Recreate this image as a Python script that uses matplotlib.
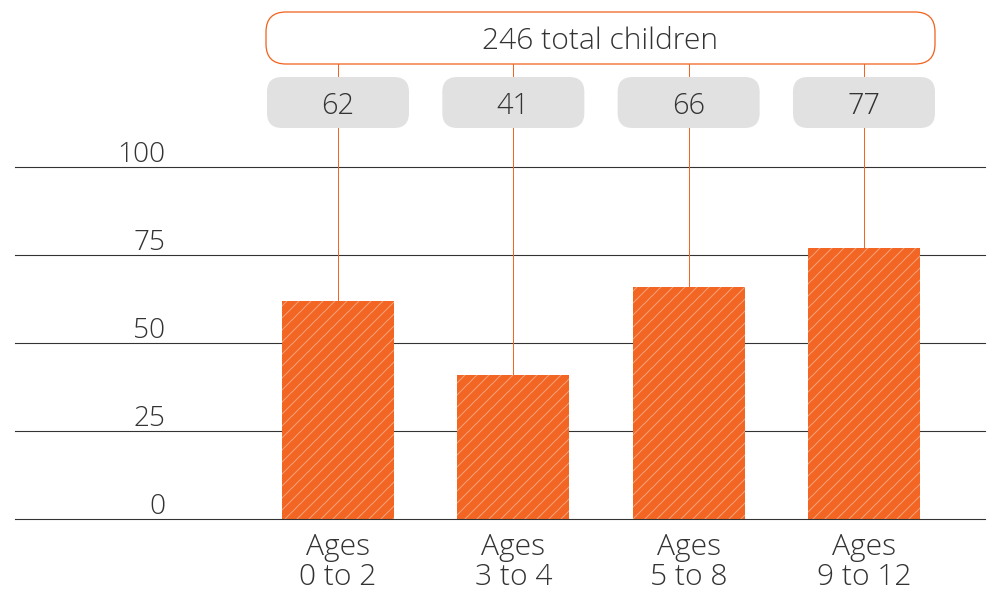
import matplotlib
matplotlib.use("Agg")
import matplotlib.pyplot as plt
from matplotlib.patches import FancyBboxPatch
import matplotlib.transforms as mtransforms

categories = ["Ages\n0 to 2", "Ages\n3 to 4", "Ages\n5 to 8", "Ages\n9 to 12"]
counts = [62, 41, 66, 77]
total_label = "246 total children"
yticks = [0, 25, 50, 75, 100]

ORANGE = "#f26522"
HATCH = "#f7a27a"
GRAY_BOX = "#e1e1e1"
TEXT = "#333333"
FONT = ["Open Sans", "DejaVu Sans"]

plt.rcParams["font.family"] = FONT
plt.rcParams["hatch.linewidth"] = 1.0

DPI = 72
W, H = 992, 593
fig = plt.figure(figsize=(W / DPI, H / DPI), dpi=DPI)

# layout in pixels
x_left, x_right = 15, 985
y_zero, y_hundred = 519, 167
c0, step = 338, 175.33
px_per_unit = (y_zero - y_hundred) / 100.0

ax = fig.add_axes([x_left / W, (H - y_zero) / H, (x_right - x_left) / W, y_zero / H])
ax.set_xlim((x_left - c0) / step, (x_right - c0) / step)
ax.set_ylim(0, y_zero / px_per_unit)
ax.axis("off")

def px2y(py):
    return (y_zero - py) / px_per_unit

def px2x(px):
    return (px - c0) / step

xs = list(range(len(counts)))
bar_w = 112 / step
ax.bar(xs, counts, width=bar_w, color=ORANGE, edgecolor=HATCH, linewidth=0,
       hatch="//", zorder=3)

# grid lines + tick labels
for v in yticks:
    ax.axhline(v, color=TEXT, lw=1.1, zorder=4 if v == 0 else 2, clip_on=False)
    ax.text(px2x(165), v, str(v), ha="right", va="baseline", fontsize=28,
            color=TEXT, fontweight="light",
            transform=ax.transData + mtransforms.ScaledTranslation(0, 5 / DPI, fig.dpi_scale_trans))

aspect = step / px_per_unit

# top total box
tb_l, tb_r, tb_t, tb_b = 266, 935, 12, 64
r_top = 20
ax.add_patch(FancyBboxPatch((px2x(tb_l), px2y(tb_b)), (tb_r - tb_l) / step,
                            (tb_b - tb_t) / px_per_unit,
                            boxstyle=f"round,pad=0,rounding_size={r_top / step}",
                            mutation_aspect=aspect, facecolor="white",
                            edgecolor=ORANGE, lw=1.3, clip_on=False, zorder=4))
ax.text(px2x((tb_l + tb_r) / 2), px2y((tb_t + tb_b) / 2), total_label,
        ha="center", va="center_baseline", fontsize=30, color=TEXT,
        fontweight="light", zorder=5)

# gray count boxes and connectors
gb_t, gb_b, gb_w, r_g = 77, 128, 142, 15
for x, c in zip(xs, counts):
    ax.add_patch(FancyBboxPatch((x - gb_w / 2 / step, px2y(gb_b)), gb_w / step,
                                (gb_b - gb_t) / px_per_unit,
                                boxstyle=f"round,pad=0,rounding_size={r_g / step}",
                                mutation_aspect=aspect, facecolor=GRAY_BOX,
                                edgecolor="none", clip_on=False, zorder=4))
    ax.text(x, px2y((gb_t + gb_b) / 2), str(c), ha="center", va="center_baseline",
            fontsize=29, color=TEXT, fontweight="light", zorder=5)
    ax.plot([x, x], [c, px2y(gb_b)], color=ORANGE, lw=1, zorder=2, clip_on=False)
    ax.plot([x, x], [px2y(gb_t), px2y(tb_b)], color=ORANGE, lw=1, zorder=2, clip_on=False)
    ax.text(x, -13 / px_per_unit, categories[x], ha="center", va="top", fontsize=30,
            color=TEXT, fontweight="light", linespacing=1.05, clip_on=False)

fig.savefig("out.png", dpi=DPI)
